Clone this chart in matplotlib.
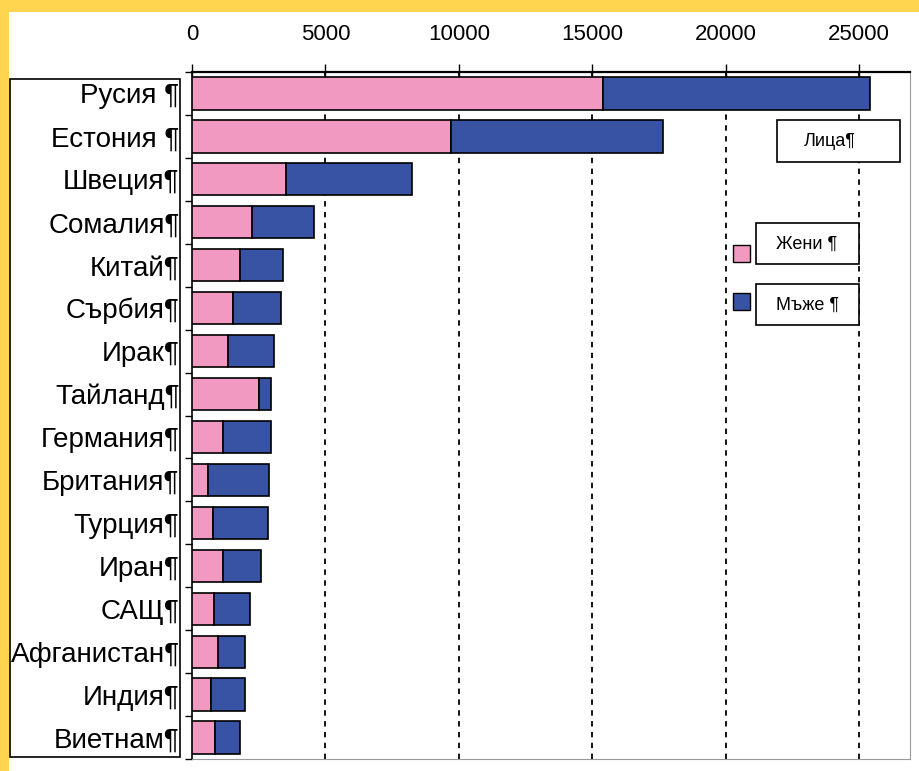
import numpy as np
import matplotlib.pyplot as plt
from matplotlib.patches import Rectangle
from matplotlib.lines import Line2D

# данни: лица по държави, жени и мъже
countries = ['Русия ¶', 'Естония ¶', 'Швеция¶', 'Сомалия¶', 'Китай¶', 'Сърбия¶',
             'Ирак¶', 'Тайланд¶', 'Германия¶', 'Британия¶', 'Турция¶', 'Иран¶',
             'САЩ¶', 'Афганистан¶', 'Индия¶', 'Виетнам¶']
women = [15400, 9700, 3540, 2250, 1800, 1530, 1360, 2510, 1170, 590, 770, 1170, 840, 980, 700, 880]
men = [10000, 7950, 4690, 2320, 1610, 1820, 1730, 450, 1790, 2300, 2060, 1420, 1350, 1020, 1300, 910]
xticks = [0, 5000, 10000, 15000, 20000, 25000]
legend_title = 'Лица¶'
legend_labels = ['Жени ¶', 'Мъже ¶']

pink = '#F299C1'
blue = '#3953A4'
FONT = ['Liberation Sans Narrow', 'Liberation Sans', 'DejaVu Sans']
plt.rcParams['font.family'] = FONT

W, H = 919, 771
fig = plt.figure(figsize=(W / 100, H / 100), dpi=100)

def fx(px):
    return px / W

def fy(py):
    return 1 - py / H

# жълта рамка
fig.add_artist(Rectangle((0, fy(12)), 1, 12 / H, transform=fig.transFigure,
                         facecolor='#FFD54F', edgecolor='none'))
fig.add_artist(Rectangle((0, 0), fx(9), 1, transform=fig.transFigure,
                         facecolor='#FFD54F', edgecolor='none'))

ax = fig.add_axes([fx(192), fy(759), fx(910) - fx(192), fy(72) - fy(759)])

y = np.arange(len(countries))
ax.barh(y, women, height=0.75, color=pink, edgecolor='black', linewidth=1.2, zorder=3)
ax.barh(y, men, left=women, height=0.75, color=blue, edgecolor='black', linewidth=1.2, zorder=3)

ax.set_xlim(0, 26900)
ax.set_ylim(len(countries) - 0.5, -0.5)

ax.xaxis.tick_top()
ax.set_xticks(xticks)
ax.set_xticklabels([str(v) for v in xticks], fontsize=16)
ax.tick_params(axis='x', direction='inout', length=11, width=1, pad=14)

ax.set_yticks(y)
ax.set_yticklabels(countries, fontsize=20)
ax.tick_params(axis='y', length=0, pad=9)
ax.set_yticks(np.arange(len(countries) + 1) - 0.5, minor=True)
ax.tick_params(axis='y', which='minor', length=5, width=1, direction='out')

for v in xticks[1:]:
    ax.axvline(v, color='black', linestyle=(0, (3, 3)), linewidth=1.3, zorder=1)

ax.spines['top'].set_linewidth(1.6)
ax.spines['left'].set_linewidth(1.2)
ax.spines['right'].set_color('#999999')
ax.spines['bottom'].set_color('#999999')

# рамка около имената
fig.add_artist(Rectangle((fx(10), fy(757)), fx(180) - fx(10), fy(79) - fy(757),
                         transform=fig.transFigure, facecolor='none',
                         edgecolor='black', linewidth=1.2))

# легенда
fig.add_artist(Rectangle((fx(777), fy(162)), fx(900) - fx(777), fy(120) - fy(162),
                         transform=fig.transFigure, facecolor='white',
                         edgecolor='black', linewidth=1.2, zorder=5))
fig.text(fx(830), fy(141), legend_title, fontsize=13, ha='center', va='center', zorder=6)

for i, (lab, col) in enumerate(zip(legend_labels, [pink, blue])):
    top = 223 + i * 61
    fig.add_artist(Rectangle((fx(756), fy(top + 41)), fx(859) - fx(756), 41 / H,
                             transform=fig.transFigure, facecolor='white',
                             edgecolor='black', linewidth=1.2, zorder=5))
    fig.text(fx(807), fy(top + 21), lab, fontsize=13, ha='center', va='center', zorder=6)
    sq = 245 if i == 0 else 293
    fig.add_artist(Rectangle((fx(733), fy(sq + 17)), fx(750) - fx(733), 17 / H,
                             transform=fig.transFigure, facecolor=col,
                             edgecolor='black', linewidth=1, zorder=5))

fig.savefig('out.png', dpi=100)
